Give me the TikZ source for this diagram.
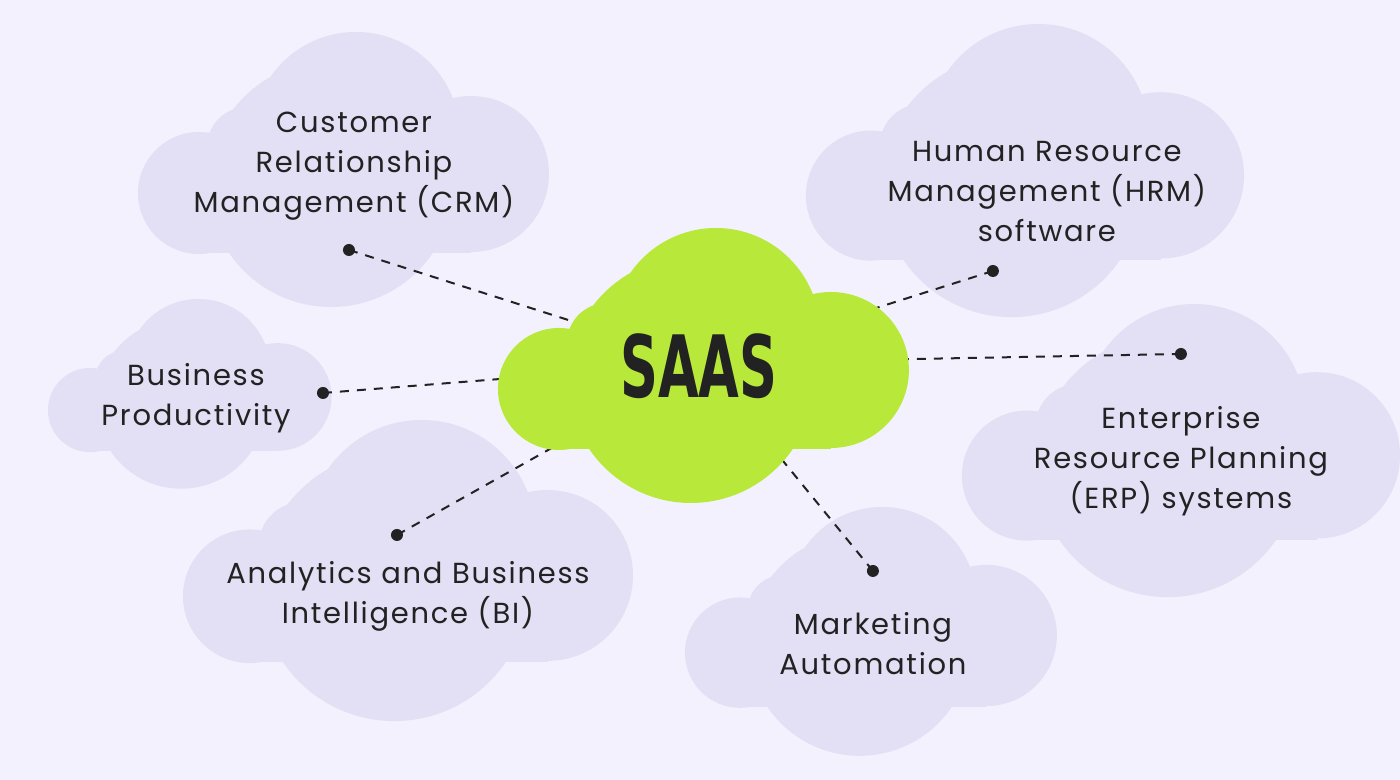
\documentclass[tikz,border=0pt]{standalone}
\usepackage{fontspec}
\usepackage{graphicx}
\setmainfont{Poppins}[LetterSpace=6]
\newfontfamily\saasfont{DejaVu Sans Condensed}
\usetikzlibrary{positioning}

\definecolor{bg}{HTML}{F3F1FD}
\definecolor{lav}{HTML}{E3DFF4}
\definecolor{lime}{HTML}{B8E93A}
\definecolor{ink}{HTML}{222222}

\tikzset{
  cloudtext/.style={align=center, text=ink, inner sep=0pt, font=\fontsize{29}{40}\selectfont},
  link/.style={draw=ink, line width=2pt, dash pattern=on 9pt off 8pt},
  dot/.style={circle, fill=ink, inner sep=0pt, minimum size=12pt}
}

\newcommand{\drawcloud}[4]{%
  \begin{scope}[shift={(#1,#2)}, scale=#3]
    \foreach \cx/\cy/\r in {61/161/61, 109/115/40, 218/104/104, 333/142/78, 193/152/123}
      \fill[#4] (\cx,\cy) circle[radius=\r];
    \fill[#4] (61,120) rectangle (333,221);
  \end{scope}}

\begin{document}
\begin{tikzpicture}[x=1pt, y=-1pt]
\fill[bg] (0,0) rectangle (1400,780);

\drawcloud{138}{32}{1}{lav}
\drawcloud{806}{24}{1.066}{lav}
\drawcloud{962}{304}{1.066}{lav}
\drawcloud{48}{299}{0.69}{lav}
\drawcloud{183}{420}{1.095}{lav}
\drawcloud{685}{507}{0.905}{lav}

\coordinate (hub) at (703,363);
\coordinate (crm) at (349,250);
\coordinate (hrm) at (993,271);
\coordinate (erp) at (1181,354);
\coordinate (prod) at (323,393);
\coordinate (bi) at (397,535);
\coordinate (mkt) at (873,571);

\foreach \p in {crm,hrm,erp,prod,bi,mkt}
  \draw[link] (\p) -- (hub);

\drawcloud{498}{228}{1}{lime}

\foreach \p in {crm,hrm,erp,prod,bi,mkt}
  \node[dot] (\p-dot) at (\p) {};

\node[text=ink] (saas) at (699,366) {\scalebox{0.68}[1]{\saasfont\bfseries\fontsize{86}{86}\selectfont SAAS}};

\node[cloudtext] (crm-text) at (354,166) {Customer\\Relationship\\Management (CRM)};
\node[cloudtext] (hrm-text) at (1047,192) {Human Resource\\Management (HRM)\\software};
\node[cloudtext] (erp-text) at (1181,461) {Enterprise\\Resource Planning\\(ERP) systems};
\node[cloudtext] (prod-text) at (196,398) {Business\\Productivity};
\node[cloudtext] (bi-text) at (408,596) {Analytics and Business\\Intelligence (BI)};
\node[cloudtext] (mkt-text) at (873,644) {Marketing\\Automation};
\end{tikzpicture}
\end{document}
